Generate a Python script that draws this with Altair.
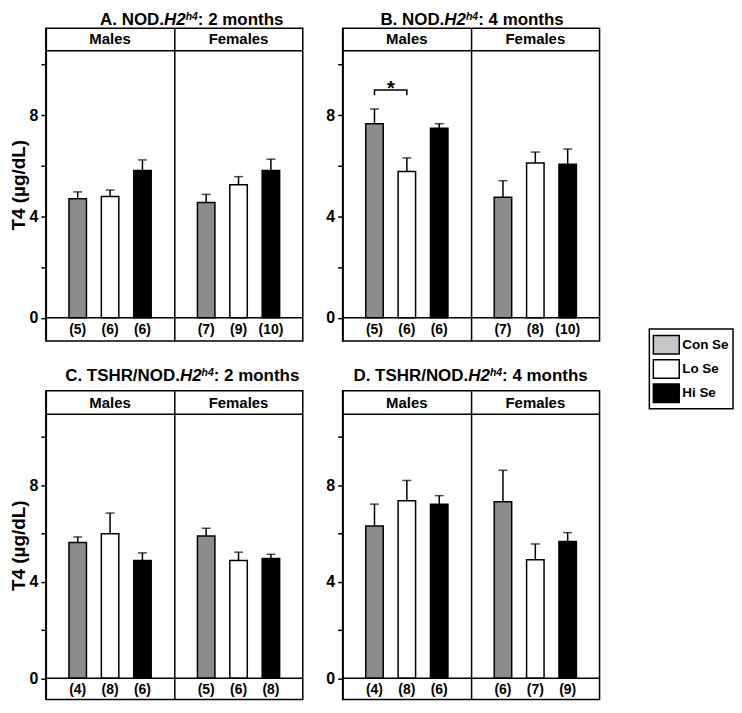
import altair as alt
import pandas as pd

FONT = "Liberation Sans"

sexes = ["Males", "Females"]
groups = ["Con Se", "Lo Se", "Hi Se"]
bar_colors = ["#8c8c8c", "#ffffff", "#000000"]
legend_colors = ["#c6c6c6", "#ffffff", "#000000"]

title_prefix = ["A. NOD.", "B. NOD.", "C. TSHR/NOD.", "D. TSHR/NOD."]
title_italic = "H2"
title_sup = "h4"
title_suffix = [": 2 months", ": 4 months", ": 2 months", ": 4 months"]
y_title = "T4 (µg/dL)"

# order: Males Con, Lo, Hi, Females Con, Lo, Hi
means_A = [4.70, 4.79, 5.81, 4.55, 5.25, 5.81]
errs_A = [0.27, 0.25, 0.42, 0.32, 0.32, 0.45]
n_A = [5, 6, 6, 7, 9, 10]

means_B = [7.66, 5.77, 7.48, 4.76, 6.11, 6.06]
errs_B = [0.58, 0.54, 0.18, 0.65, 0.43, 0.60]
n_B = [5, 6, 6, 7, 8, 10]

means_C = [5.62, 5.98, 4.88, 5.89, 4.88, 4.96]
errs_C = [0.23, 0.86, 0.31, 0.32, 0.34, 0.17]
n_C = [4, 8, 6, 5, 6, 8]

means_D = [6.30, 7.35, 7.20, 7.31, 4.91, 5.66]
errs_D = [0.91, 0.84, 0.36, 1.30, 0.65, 0.37]
n_D = [4, 8, 6, 6, 7, 9]

# significance bracket in panel B (males, Con Se vs Lo Se)
sig_sex = "Males"
sig_pair = ["Con Se", "Lo Se"]
sig_line = 8.99
sig_leg = 8.78
sig_star = 8.8

y_ticks = [0, 2, 4, 6, 8, 10]

# Layout settings per row: (domain, height, header line, header text, title baseline)
ROWS = {
    1: ([-0.915, 11.42], 314, 10.54, 10.98, -3.6),
    2: ([-0.884, 11.9], 310, 10.93, 11.415, -10),
}
PW = 258

AW = {' ': 278, '.': 278, ':': 333, '/': 278, '2': 556, '4': 556, 'A': 722, 'B': 722,
      'C': 722, 'D': 722, 'H': 722, 'N': 722, 'O': 778, 'R': 722, 'S': 667, 'T': 611,
      'h': 611, 'm': 889, 'n': 611, 'o': 611, 's': 556, 't': 333}


def tw(txt, size):
    return sum(AW.get(c, 600) for c in txt) * size / 1000.0


one = pd.DataFrame({"a": [0]})


def title_layers(k, cx, ty):
    pieces = [(title_prefix[k], 17, "normal", 0), (title_italic, 17, "italic", 0),
              (title_sup, 10.5, "italic", 5), (title_suffix[k], 17, "normal", 0)]
    widths = [tw(t, s) for t, s, _, _ in pieces]
    x = cx - sum(widths) / 2
    out = []
    for (t, s, st, r), w in zip(pieces, widths):
        out.append(alt.Chart(one).mark_text(font=FONT, fontSize=s, fontWeight="bold", fontStyle=st,
                                            align="left", baseline="alphabetic", color="black")
                   .encode(x=alt.value(x), y=alt.value(ty - r), text=alt.value(t)))
        x += w
    return out


def make_panel(k, means, errs, ns, row, show_ytitle, title_cx, sig=False):
    dom, h, head, head_mid, ty = ROWS[row]
    df = pd.DataFrame({"sex": [s for s in sexes for _ in groups], "group": groups * 2,
                       "mean": means, "err": errs, "n": [f"({v})" for v in ns]})
    df["top"] = df["mean"] + df["err"]
    ysc = alt.Scale(domain=dom, nice=False, zero=False)
    xsc = alt.Scale(domain=sexes, paddingInner=0, paddingOuter=0)
    osc = alt.Scale(domain=groups, paddingInner=0.46, paddingOuter=0.715)
    x_axis = alt.Axis(title=None, labels=False, ticks=False, domain=False, grid=True,
                      gridColor="black", gridWidth=1.5, gridOpacity=1, bandPosition=0)
    y_axis = alt.Axis(title=y_title if show_ytitle else None, values=y_ticks,
                      labelExpr="datum.value % 4 === 0 ? datum.label : ''",
                      tickSize=5, tickWidth=1.5, tickColor="black", domain=False, grid=False,
                      labelFont=FONT, labelFontSize=16, labelFontWeight="bold", labelColor="black",
                      labelPadding=3, titleFont=FONT, titleFontSize=19, titleFontWeight="bold",
                      titleColor="black", titlePadding=1)
    XO = alt.XOffset("group:N", scale=osc)

    def X():
        return alt.X("sex:N", scale=xsc, axis=x_axis)

    def Y(field):
        return alt.Y(field, scale=ysc, axis=y_axis)

    def YD(v):
        return alt.YDatum(v, scale=ysc, axis=y_axis)

    base = alt.Chart(df)
    bars = base.mark_bar(stroke="black", strokeWidth=1.5).encode(
        x=X(), xOffset=XO, y=Y("mean:Q"), y2=alt.datum(0),
        fill=alt.Fill("group:N", sort=groups, scale=alt.Scale(range=bar_colors), legend=None))
    err = base.mark_rule(color="black", strokeWidth=1.5).encode(
        x=X(), xOffset=XO, y=Y("mean:Q"), y2="top:Q")
    cap = base.mark_tick(color="black", thickness=1.5, size=9).encode(
        x=X(), xOffset=XO, y=Y("top:Q"))
    ntext = base.mark_text(font=FONT, fontSize=14, fontWeight="bold", baseline="middle",
                           color="black").encode(
        x=X(), xOffset=XO, y=YD(-0.47), text="n:N")
    lines = alt.Chart(pd.DataFrame({"v": [0, head]})).mark_rule(color="black", strokeWidth=1.5).encode(
        y=Y("v:Q"))
    htext = alt.Chart(pd.DataFrame({"sex": sexes})).mark_text(
        font=FONT, fontSize=15, fontWeight="bold", baseline="middle", color="black").encode(
        x=X(), y=YD(head_mid), text="sex:N")
    layers = [bars, err, cap, lines, ntext, htext]
    if sig:
        sdf = pd.DataFrame({"sex": [sig_sex] * 4,
                            "group": [sig_pair[0], sig_pair[0], sig_pair[1], sig_pair[1]],
                            "y": [sig_leg, sig_line, sig_line, sig_leg], "o": [0, 1, 2, 3]})
        bracket = alt.Chart(sdf).mark_line(color="black", strokeWidth=1.5).encode(
            x=X(), xOffset=XO, y=Y("y:Q"), order="o:Q")
        star = alt.Chart(sdf.iloc[[0]]).mark_text(text="*", font=FONT, fontSize=20, fontWeight="bold",
                                                  baseline="alphabetic", dx=16.5, color="black").encode(
            x=X(), xOffset=XO, y=YD(sig_star))
        layers += [bracket, star]
    layers += title_layers(k, title_cx, ty)
    return alt.layer(*layers).properties(width=PW, height=h)


pA = make_panel(0, means_A, errs_A, n_A, 1, True, 146.5)
pB = make_panel(1, means_B, errs_B, n_B, 1, False, 130, sig=True)
pC = make_panel(2, means_C, errs_C, n_C, 2, True, 137)
pD = make_panel(3, means_D, errs_D, n_D, 2, False, 128.5)

main = alt.vconcat(
    alt.hconcat(pA, pB, spacing=20),
    alt.hconcat(pC, pD, spacing=20),
    spacing=24,
)

# legend box (separate small view)
legdf = pd.DataFrame({"group": groups})
ysc_leg = alt.Scale(domain=groups, paddingInner=0.24, paddingOuter=0.26)
swatch = alt.Chart(legdf).mark_rect(stroke="black", strokeWidth=1.5).encode(
    x=alt.value(4), x2=alt.value(30),
    y=alt.Y("group:N", scale=ysc_leg, axis=None),
    color=alt.Color("group:N", scale=alt.Scale(domain=groups, range=legend_colors), legend=None))
labels = alt.Chart(legdf).mark_text(align="left", baseline="middle", font=FONT, fontSize=13.5,
                                    fontWeight="bold", color="black").encode(
    x=alt.value(33), y=alt.Y("group:N", scale=ysc_leg, axis=None), text="group:N")
legbox = alt.layer(swatch, labels).properties(width=84, height=80)

spacer = alt.Chart(one).mark_rule(opacity=0).encode(
    x=alt.value(0), x2=alt.value(0), y=alt.value(0), y2=alt.value(0)
).properties(width=1, height=1, view=alt.ViewBackground(stroke="transparent"))

legend_col = alt.vconcat(spacer, legbox, spacing=299)

chart = alt.hconcat(main, legend_col, spacing=47).properties(
    padding={"left": 0, "top": 0, "right": 0, "bottom": 0}
).configure(font=FONT, background="white"
).configure_view(stroke="black", strokeWidth=1.5)

chart.save("out.html", embed_options={"renderer": "svg", "actions": False})
